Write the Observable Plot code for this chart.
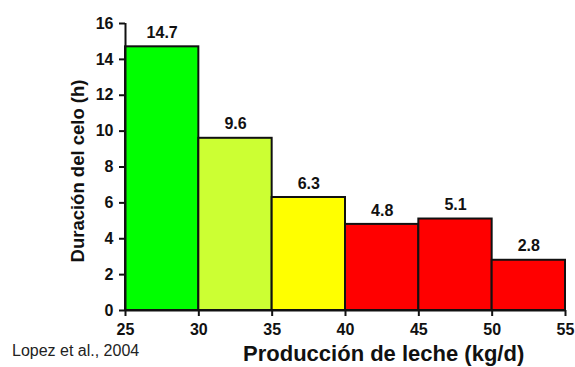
<!DOCTYPE html>
<html>
<head>
<meta charset="utf-8">
<script src="https://cdn.jsdelivr.net/npm/d3@7"></script>
<script src="https://cdn.jsdelivr.net/npm/@observablehq/plot@0.6"></script>
<style>
  html, body { margin: 0; padding: 0; background: #fff; }
  #wrap { position: relative; width: 575px; height: 367px; font-family: "Liberation Sans", Arial, sans-serif; }
  #caption { position: absolute; left: 12px; top: 342px; font-size: 16px; color: #222; }
</style>
</head>
<body>
<div id="wrap"><div id="caption">Lopez et al., 2004</div></div>
<script>
const binStart = [25, 30, 35, 40, 45, 50];
const binEnd = [30, 35, 40, 45, 50, 55];
const duration = [14.7, 9.6, 6.3, 4.8, 5.1, 2.8];
const labels = ["14.7", "9.6", "6.3", "4.8", "5.1", "2.8"];
const colors = ["#00ff00", "#ccff33", "#ffff00", "#ff0000", "#ff0000", "#ff0000"];
const xTicks = [25, 30, 35, 40, 45, 50, 55];
const yTicks = [0, 2, 4, 6, 8, 10, 12, 14, 16];
const xLabel = "Producción de leche (kg/d)";
const yLabel = "Duración del celo (h)";

const data = binStart.map((s, i) => ({x1: s, x2: binEnd[i], y: duration[i], label: labels[i], color: colors[i]}));

const chart = Plot.plot({
  width: 575,
  height: 367,
  marginLeft: 125,
  marginRight: 10,
  marginTop: 23,
  marginBottom: 57,
  style: {fontFamily: "Liberation Sans, Arial, sans-serif", fontSize: "16px", fontWeight: "bold", background: "white", color: "#111"},
  x: {domain: [25, 55]},
  y: {domain: [0, 16]},
  marks: [
    Plot.rectY(data, {x1: "x1", x2: "x2", y1: 0, y2: "y", fill: "color", stroke: "#111", strokeWidth: 2}),
    Plot.text(data, {x: d => (d.x1 + d.x2) / 2, y: "y", text: "label", dy: -14, fontSize: 16, fontWeight: "bold", fill: "#111"}),
    Plot.ruleX([25], {y1: 0, y2: 16, stroke: "#111", strokeWidth: 2}),
    Plot.ruleY([0], {x1: 25, x2: 55, stroke: "#111", strokeWidth: 2}),
    Plot.axisY({ticks: yTicks, tickSize: 6, tickPadding: 6, label: null, stroke: "#111", strokeWidth: 2, fill: "#111"}),
    Plot.axisX({ticks: xTicks, tickSize: 6, tickPadding: 7, label: null, stroke: "#111", strokeWidth: 2, fill: "#111"}),
    Plot.text([xLabel], {frameAnchor: "bottom", dy: 50, fontSize: 22, fontWeight: "bold", fill: "#111", x: 42.6, text: d => d}),
    Plot.text([yLabel], {frameAnchor: "left", dx: -47, dy: 4, rotate: -90, textAnchor: "middle", fontSize: 18.5, fontWeight: "bold", fill: "#111", text: d => d})
  ]
});
document.getElementById("wrap").prepend(chart);
</script>
</body>
</html>
